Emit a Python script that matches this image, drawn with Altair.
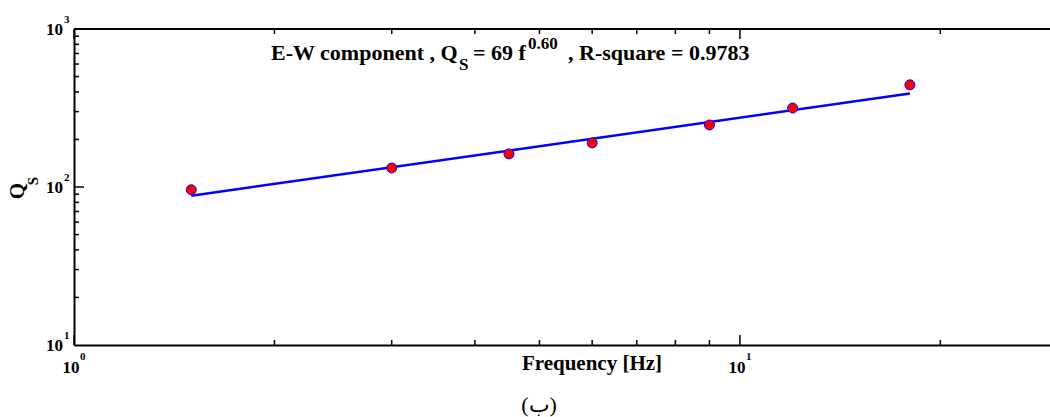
import altair as alt
import pandas as pd

# Observed attenuation values (frequency in Hz, Qs)
freq = [1.5, 3.0, 4.5, 6.0, 9.0, 12.0, 18.0]
qs = [96, 132, 162, 190, 247, 316, 443]

# End points of the fitted power law Qs = 69 f^0.60
fit_freq = [1.5, 18.0]
fit_qs = [88.0, 390.8]

# Tick positions on the log axes
x_major = [1, 10]
x_minor = [2, 3, 4, 5, 6, 7, 8, 9, 20]
y_major = [100]
y_minor = [20, 30, 40, 50, 60, 70, 80, 90, 200, 300, 400, 500, 600, 700, 800, 900]
x_label_vals = [1, 10]
x_label_exp = ["0", "1"]
y_label_vals = [10, 100, 1000]
y_label_exp = ["1", "2", "3"]

W, H = 976, 316
FONT = "Liberation Serif"

xs = alt.Scale(type="log", domain=[1, 29.22], nice=False)
ys = alt.Scale(type="log", domain=[10, 1000], nice=False)

pts = pd.DataFrame({"f": freq, "q": qs})
fit = pd.DataFrame({"f": fit_freq, "q": fit_qs})

X = alt.X("f:Q", scale=xs, axis=alt.Axis(labels=False, ticks=False, grid=False, title=None,
                                          domainColor="black", domainWidth=2))
Y = alt.Y("q:Q", scale=ys, axis=alt.Axis(labels=False, ticks=False, grid=False, title=None,
                                          domainColor="black", domainWidth=2))

line = alt.Chart(fit).mark_line(color="#0000ff", strokeWidth=2.5).encode(x=X, y=Y)
dots = alt.Chart(pts).mark_point(filled=True, fill="#ff0000", stroke="#0000ff", strokeWidth=1,
                                 opacity=1, size=100, shape="circle").encode(x=X, y=Y)


def xticks(vals, length):
    d = pd.DataFrame({"f": vals})
    bottom = alt.Chart(d).mark_rule(color="black", strokeWidth=1.5).encode(
        x=alt.X("f:Q", scale=xs), y=alt.value(H), y2=alt.value(H - length))
    top = alt.Chart(d).mark_rule(color="black", strokeWidth=1.5).encode(
        x=alt.X("f:Q", scale=xs), y=alt.value(0), y2=alt.value(length))
    return [bottom, top]


def yticks(vals, length):
    d = pd.DataFrame({"q": vals})
    return [alt.Chart(d).mark_rule(color="black", strokeWidth=1.5).encode(
        y=alt.Y("q:Q", scale=ys), x=alt.value(0), x2=alt.value(length))]


ticks = xticks(x_minor, 5) + xticks(x_major, 10) + yticks(y_minor, 5) + yticks(y_major, 10)

frame_top = alt.Chart(pd.DataFrame({"a": [0]})).mark_rule(color="black", strokeWidth=2).encode(
    x=alt.value(0), x2=alt.value(W), y=alt.value(0))

# Decade labels written as 10 with a raised exponent
xl = pd.DataFrame({"f": x_label_vals, "e": x_label_exp, "b": ["10"] * len(x_label_vals)})
x_base = alt.Chart(xl).mark_text(font=FONT, fontWeight="bold", fontSize=17, align="center",
                                 baseline="alphabetic", dx=-3, color="black").encode(
    x=alt.X("f:Q", scale=xs), y=alt.value(H + 28), text="b:N")
x_exp = alt.Chart(xl).mark_text(font=FONT, fontWeight="bold", fontSize=11, align="left",
                                baseline="alphabetic", dx=6, color="black").encode(
    x=alt.X("f:Q", scale=xs), y=alt.value(H + 15), text="e:N")

yl = pd.DataFrame({"q": y_label_vals, "e": y_label_exp, "b": ["10"] * len(y_label_vals)})
y_base = alt.Chart(yl).mark_text(font=FONT, fontWeight="bold", fontSize=17, align="right",
                                 baseline="alphabetic", dy=6, color="black").encode(
    y=alt.Y("q:Q", scale=ys), x=alt.value(-11), text="b:N")
y_exp = alt.Chart(yl).mark_text(font=FONT, fontWeight="bold", fontSize=11, align="left",
                                baseline="alphabetic", dy=-6, color="black").encode(
    y=alt.Y("q:Q", scale=ys), x=alt.value(-10), text="e:N")


def label(text, x, y, size, weight="bold", align="left", angle=0, baseline="alphabetic"):
    return alt.Chart(pd.DataFrame({"t": [text]})).mark_text(
        font=FONT, fontWeight=weight, fontSize=size, align=align, baseline=baseline,
        angle=angle, color="black").encode(x=alt.value(x), y=alt.value(y), text="t:N")


# Fit annotation with subscript and superscript pieces
annotation = [
    label("E-W component , Q", 197, 31, 22),
    label("S", 385, 41, 17),
    label("= 69 f", 399, 31, 22),
    label("0.60", 454, 20, 17),
    label(", R-square = 0.9783", 494, 31, 22),
]

titles = [
    label("Frequency [Hz]", 518, H + 25, 21, align="center"),
    label("Q", -56, 162, 21, align="center", angle=270, baseline="middle"),
    label("S", -41, 152, 15, align="center", angle=270, baseline="middle"),
    label("(ب)", 465, H + 67, 22, weight="normal", align="center"),
]

chart = alt.layer(
    *ticks, frame_top, line, dots, x_base, x_exp, y_base, y_exp, *annotation, *titles
).properties(
    width=W, height=H,
    autosize=alt.AutoSizeParams(type="none"),
    padding={"left": 74, "top": 29, "right": 0, "bottom": 72},
    background="white",
).configure_view(stroke=None)

chart.save("out.html", embed_options={"renderer": "svg", "actions": False})
